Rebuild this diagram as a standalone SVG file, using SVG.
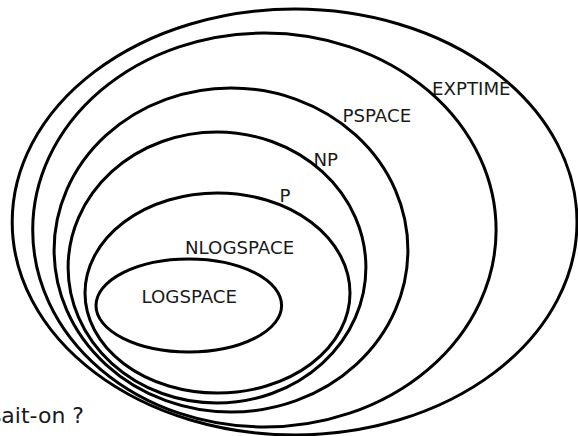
<svg xmlns="http://www.w3.org/2000/svg" width="578" height="436" viewBox="0 0 578 436">
<style>
.set{fill:none;stroke:#000;stroke-width:3}
.lbl{font-family:"DejaVu Sans",sans-serif;font-size:18.2px;fill:#1a1a1a}
.note{font-family:"DejaVu Sans",sans-serif;font-size:22px;fill:#1a1a1a}
</style>
<rect width="578" height="436" fill="#fff"/>
<g id="EXPTIME"><ellipse class="set" cx="294.6" cy="222" rx="282.4" ry="213"/><text class="lbl" x="432" y="95">EXPTIME</text></g>
<g id="PSPACE"><ellipse class="set" cx="264.4" cy="230" rx="231.7" ry="197"/><text class="lbl" x="342.5" y="122">PSPACE</text></g>
<g id="NP"><ellipse class="set" cx="231" cy="250" rx="176.9" ry="162"/><text class="lbl" x="313.5" y="166">NP</text></g>
<g id="P"><ellipse class="set" cx="217" cy="267.5" rx="148.9" ry="135.5"/><text class="lbl" x="279.5" y="202">P</text></g>
<g id="NLOGSPACE"><ellipse class="set" cx="217.5" cy="293" rx="132.5" ry="100"/><text class="lbl" x="185" y="254">NLOGSPACE</text></g>
<g id="LOGSPACE"><ellipse class="set" cx="188.8" cy="305.5" rx="92.8" ry="46.5"/><text class="lbl" x="141.5" y="303">LOGSPACE</text></g>
<g id="connectors"/>
<text class="note" x="84" y="423" text-anchor="end">sait-on ?</text>
</svg>
